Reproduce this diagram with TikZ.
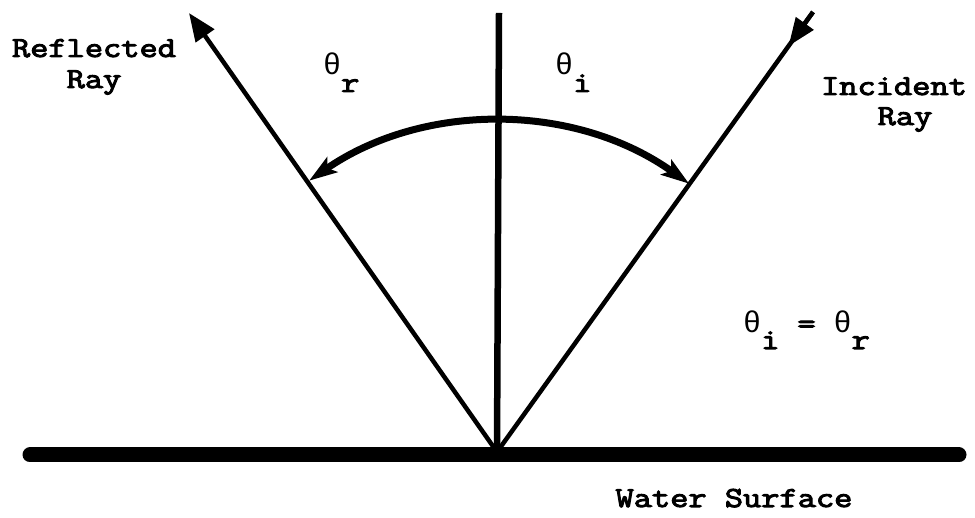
\documentclass[tikz,border=0pt]{standalone}
\usepackage{fontspec}
\newfontfamily\courfont[FakeStretch=1.22,FakeBold=3.5]{Latin Modern Mono}
\newfontfamily\thfont{Liberation Mono}
\usetikzlibrary{arrows.meta,calc}
\begin{document}
\begin{tikzpicture}[x=1pt,y=1pt,
  lbl/.style={font=\fontsize{29}{32}\selectfont\courfont,inner sep=0pt,anchor=base},
  thlbl/.style={font=\fontsize{29}{32}\selectfont\courfont,inner sep=0pt,anchor=base west},
  ray/.style={line width=4.5pt},
  bigtip/.style={-{Triangle[length=28pt,width=22pt]}}
]
\useasboundingbox (0,0) rectangle (975,518);
% points
\coordinate (O) at (497,66);
\coordinate (N) at (499,505);
\coordinate (R) at (189,505);
\coordinate (I) at (813,506);
\coordinate (Itip) at ($(I)!42pt!(O)$);
% water surface
\coordinate (W1) at (30,63);
\coordinate (W2) at (959,63);
\draw[line width=15pt,line cap=round] (W1) -- (W2);
% normal
\draw[line width=6.5pt] (O) -- (N);
% reflected ray
\draw[ray,bigtip] (O) -- (R);
% incident ray
\draw[ray] (I) -- (O);
\draw[ray,-{Triangle[length=28pt,width=21pt]}] (I) -- (Itip);
% angle arc
\draw[line width=7pt,{Stealth[length=28pt,width=18pt,inset=6pt]}-{Stealth[length=28pt,width=18pt,inset=6pt]}]
  ($(O)+(124.7:330pt)$) arc[start angle=124.7,end angle=54.4,radius=330pt];
% labels
\node[lbl] (refl1) at (94,461) {Reflected};
\node[lbl] (refl2) at (94,430) {Ray};
\node[lbl] (inc1) at (894,423) {Incident};
\node[lbl] (inc2) at (905,393) {Ray};
\node[thlbl] (thr) at (323,443) {{\thfont\fontsize{30}{32}\selectfont θ}\raisebox{-17pt}{r}};
\node[thlbl] (thi) at (555,443) {{\thfont\fontsize{30}{32}\selectfont θ}\raisebox{-17pt}{i}};
\node[thlbl] (eq) at (743,185) {{\thfont\fontsize{30}{32}\selectfont θ}\raisebox{-16pt}{i}\hspace{18pt}=\hspace{18pt}{\thfont\fontsize{30}{32}\selectfont θ}\raisebox{-16pt}{r}};
\node[lbl] (water) at (734,11) {Water Surface};
\end{tikzpicture}
\end{document}
